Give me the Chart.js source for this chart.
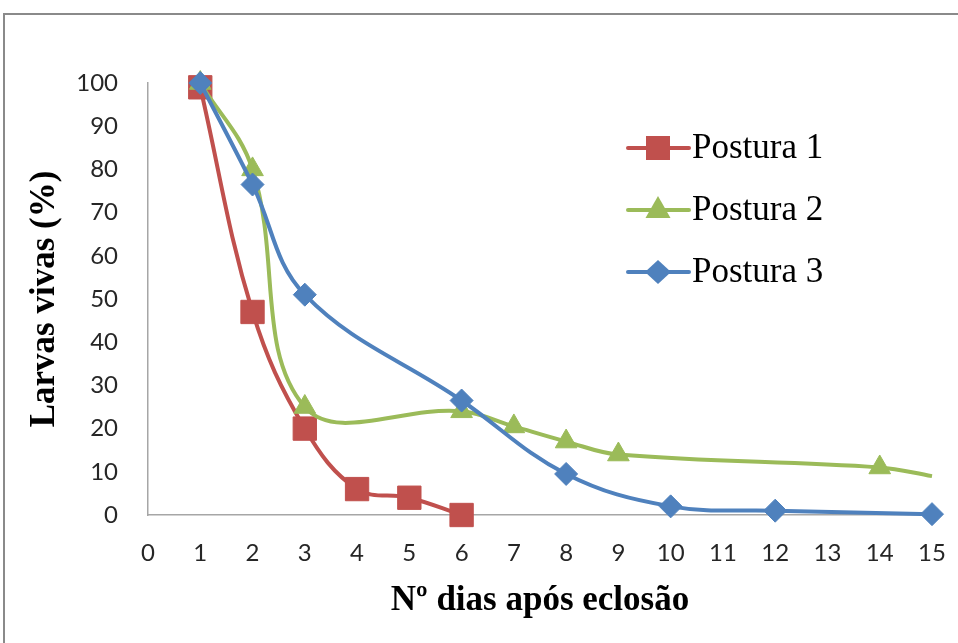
<!DOCTYPE html>
<html>
<head>
<meta charset="utf-8">
<script src="https://cdn.jsdelivr.net/npm/chart.js@4.4.1/dist/chart.umd.min.js"></script>
<style>
  html, body { margin: 0; padding: 0; background: #fff; overflow: hidden; }
  #frame { position: absolute; left: 3px; top: 13px; width: 1000px; height: 700px;
           border-top: 2px solid #8a8a8a; border-left: 2px solid #8a8a8a; }
  #chart { position: absolute; left: 0; top: 0; }
</style>
</head>
<body>
<div id="frame"></div>
<canvas id="chart" width="958" height="643"></canvas>
<script>
// values
const SERIES_NAMES = ["Postura 1", "Postura 2", "Postura 3"];
const p1Days = [1, 2, 3, 4, 5, 6];
const p1Values = [99, 47, 20, 6, 4, 0];
const p2Days = [1, 2, 3, 6, 7, 8, 9, 14, 15];
const p2Values = [100, 80, 25, 24, 20.5, 17, 14, 11, 9];
const p3Days = [1, 2, 3, 6, 8, 10, 12, 15];
const p3Values = [100, 76.5, 51, 26.5, 9.5, 2, 1, 0.2];
const X_TICKS = [0, 1, 2, 3, 4, 5, 6, 7, 8, 9, 10, 11, 12, 13, 14, 15];
const Y_TICKS = [0, 10, 20, 30, 40, 50, 60, 70, 80, 90, 100];

const RED = "#C0504D", GREEN = "#9BBB59", BLUE = "#4F81BD";

function toPoints(xs, ys) {
    return xs.map(function (x, i) { return {x: x, y: ys[i]}; });
}

//last green point has no marker in the original
var greenRadius = p2Days.map(function (d, i) { return i == p2Days.length - 1 ? 0 : 12.5; });

var datasets = [
    {label: SERIES_NAMES[0], data: toPoints(p1Days, p1Values), borderColor: RED, backgroundColor: RED,
     pointStyle: "rect", pointRadius: 16.5, order: 3},
    {label: SERIES_NAMES[1], data: toPoints(p2Days, p2Values), borderColor: GREEN, backgroundColor: GREEN,
     pointStyle: "triangle", pointRadius: greenRadius, order: 2},
    {label: SERIES_NAMES[2], data: toPoints(p3Days, p3Values), borderColor: BLUE, backgroundColor: BLUE,
     pointStyle: "rectRot", pointRadius: 11.5, order: 1}
];
datasets.forEach(function (ds) {
    ds.borderWidth = 4;
    ds.pointBorderWidth = 1;
    ds.tension = 0.38;
    ds.fill = false;
    ds.clip = false;//markers on the axis are not cut in the original
    ds.pointHoverRadius = ds.pointRadius;
});

//legend drawn inside the plot, like the Excel one
const legendInPlot = {
    id: "legendInPlot",
    afterDraw: function (chart) {
        var ctx = chart.ctx;
        var rows = [148, 210, 272];
        ctx.save();
        chart.data.datasets.forEach(function (ds, i) {
            var y = rows[i];
            var cx = 658;
            ctx.strokeStyle = ds.borderColor;
            ctx.fillStyle = ds.backgroundColor;
            ctx.lineWidth = 4;
            ctx.lineCap = "round";
            ctx.beginPath(); ctx.moveTo(628, y); ctx.lineTo(689, y); ctx.stroke();
            ctx.beginPath();
            if (ds.pointStyle == "rect") {
                ctx.rect(cx - 12, y - 12, 24, 24);
            } else if (ds.pointStyle == "triangle") {
                ctx.moveTo(cx, y - 14); ctx.lineTo(cx + 12.5, y + 8); ctx.lineTo(cx - 12.5, y + 8); ctx.closePath();
            } else {
                ctx.moveTo(cx, y - 12); ctx.lineTo(cx + 13, y); ctx.lineTo(cx, y + 12); ctx.lineTo(cx - 13, y); ctx.closePath();
            }
            ctx.fill();
            ctx.fillStyle = "#000";
            ctx.font = "35px 'Liberation Serif'";
            ctx.textBaseline = "middle";
            ctx.textAlign = "left";
            ctx.fillText(ds.label, 692, y + 1);
        });
        ctx.restore();
    }
};

var ctx = document.getElementById("chart").getContext("2d");
var chart = new Chart(ctx, {
    type: "line",
    data: {datasets: datasets},
    options: {
        responsive: false,
        animation: false,
        devicePixelRatio: 1,
        layout: {padding: {left: 24, top: 83, right: 26, bottom: 21}},
        plugins: {legend: {display: false}, tooltip: {enabled: false}},
        scales: {
            x: {
                type: "linear", min: 0, max: 15,
                afterBuildTicks: function (scale) { scale.ticks = X_TICKS.map(function (v) { return {value: v}; }); },
                afterFit: function (scale) { scale.height = 107; },
                //invisible tick marks push the labels down without eating the right margin
                grid: {drawOnChartArea: false, drawTicks: true, tickLength: 14, tickColor: "rgba(0,0,0,0)"},
                border: {display: true, color: "#a6a6a6", width: 1.5},
                ticks: {padding: 10, color: "#262626", font: {family: "Lato", size: 24}, maxRotation: 0, autoSkip: false},
                title: {display: true, text: "Nº dias após eclosão", color: "#000", padding: 0,
                        font: {family: "'Liberation Serif'", size: 35, weight: "bold"}}
            },
            y: {
                min: 0, max: 100,
                afterBuildTicks: function (scale) { scale.ticks = Y_TICKS.map(function (v) { return {value: v}; }); },
                afterFit: function (scale) { scale.width = 124; },
                grid: {drawOnChartArea: false, drawTicks: false},
                border: {display: true, color: "#a6a6a6", width: 1.5},
                ticks: {padding: 30, color: "#262626", font: {family: "Lato", size: 24}},
                title: {display: true, text: "Larvas vivas (%)", color: "#000", padding: 0,
                        font: {family: "'Liberation Serif'", size: 35, weight: "bold"}}
            }
        }
    },
    plugins: [legendInPlot]
});
</script>
</body>
</html>
